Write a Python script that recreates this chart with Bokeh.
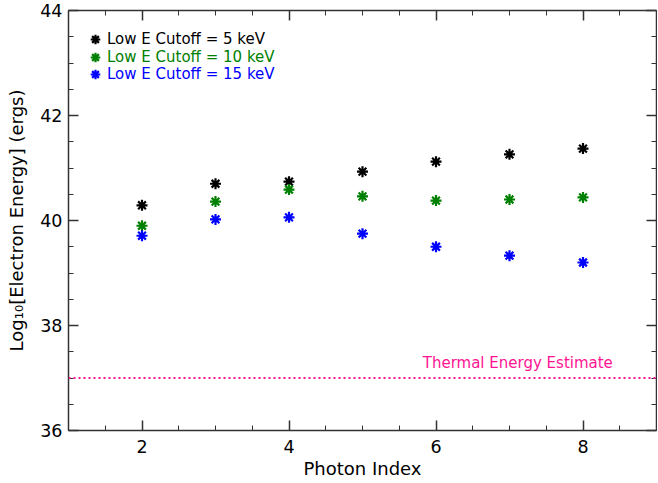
from bokeh.plotting import figure
from bokeh.models import (Range1d, FixedTicker, LinearAxis, Legend, LegendItem,
                          Span, Label, ColumnDataSource)
from bokeh.embed import file_html
from bokeh.resources import INLINE
import numpy as np

photon_index = [2, 3, 4, 5, 6, 7, 8]
energy_5kev = [40.29, 40.70, 40.74, 40.93, 41.12, 41.26, 41.37]
energy_10kev = [39.90, 40.36, 40.59, 40.46, 40.38, 40.40, 40.44]
energy_15kev = [39.71, 40.02, 40.06, 39.75, 39.50, 39.33, 39.20]
labels = ["Low E Cutoff = 5 keV", "Low E Cutoff = 10 keV", "Low E Cutoff = 15 keV"]
colors = ["black", "#008000", "#0000ff"]
thermal_estimate = 37.0
x_ticks = [2, 4, 6, 8]
y_ticks = [36, 38, 40, 42, 44]

FONT = "DejaVu Sans"
AX = "#333333"

p = figure(width=650, height=480, output_backend="svg", toolbar_location=None,
           x_range=Range1d(1, 9), y_range=Range1d(36, 44),
           min_border_left=68, min_border_top=10, min_border_right=1, min_border_bottom=50)
p.frame_width = 588
p.frame_height = 420
p.grid.visible = False
p.outline_line_color = None
p.background_fill_color = "white"

xt = FixedTicker(ticks=x_ticks, minor_ticks=list(np.arange(1, 9.01, 0.5)))
yt = FixedTicker(ticks=y_ticks, minor_ticks=list(np.arange(36, 44.01, 0.5)))

def style(ax, ticker, ticks, show_labels):
    ax.ticker = ticker
    ax.axis_line_color = AX
    ax.axis_line_width = 1.5
    ax.major_tick_line_color = AX
    ax.minor_tick_line_color = AX
    ax.major_tick_line_width = 1.5
    ax.minor_tick_line_width = 1
    ax.major_tick_in = 10
    ax.major_tick_out = 0
    ax.minor_tick_in = 5
    ax.minor_tick_out = 0
    if show_labels:
        ax.major_label_text_font = FONT
        ax.major_label_text_font_size = "17.5px"
        ax.major_label_text_color = "black"
        ax.axis_label_text_font = FONT
        ax.axis_label_text_font_size = "18px"
        ax.axis_label_text_font_style = "normal"
        ax.axis_label_text_color = "black"
    else:
        ax.major_label_overrides = {t: "" for t in ticks}
        ax.major_label_standoff = 0

style(p.xaxis[0], xt, x_ticks, True)
style(p.yaxis[0], yt, y_ticks, True)
p.xaxis[0].axis_label = "Photon Index"
p.xaxis[0].major_label_standoff = 9
p.xaxis[0].axis_label_standoff = 2
p.yaxis[0].axis_label = "Log₁₀[Electron Energy] (ergs)"
p.yaxis[0].major_label_standoff = 6
p.yaxis[0].axis_label_standoff = 10

top = LinearAxis()
style(top, xt, x_ticks, False)
p.add_layout(top, "above")
right = LinearAxis()
style(right, yt, y_ticks, False)
p.add_layout(right, "right")

series = [energy_5kev, energy_10kev, energy_15kev]
renderers = []
for vals, c in zip(series, colors):
    src = ColumnDataSource(dict(x=photon_index, y=vals))
    r = p.scatter("x", "y", source=src, marker="asterisk", size=11,
                  line_color=c, line_width=2.2)
    renderers.append(r)

p.add_layout(Span(location=thermal_estimate, dimension="width",
                  line_color="#ff1493", line_width=2.2, line_dash="2 3"))
p.add_layout(Label(x=5.82, y=thermal_estimate + 0.28, text="Thermal Energy Estimate",
                   text_font=FONT, text_font_size="15px", text_color="#ff1493",
                   text_baseline="alphabetic"))

for i, (lab, c, r) in enumerate(zip(labels, colors, renderers)):
    lg = Legend(items=[LegendItem(label=lab, renderers=[r])],
                location=(15, 379 - i * 17.5),
                label_text_font=FONT, label_text_font_size="15px",
                label_text_color=c, glyph_width=24, glyph_height=24,
                label_standoff=0, padding=0, margin=0, spacing=0,
                border_line_color=None, background_fill_alpha=0,
                label_height=24)
    p.add_layout(lg, "center")

open("out.html", "w").write(file_html(p, INLINE))
